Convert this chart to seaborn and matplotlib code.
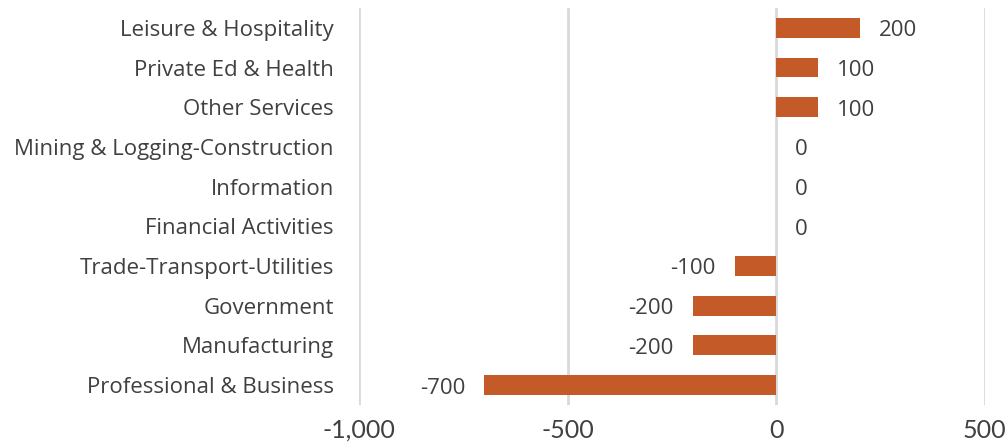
import pandas as pd
import matplotlib
matplotlib.use('Agg')
import matplotlib.pyplot as plt
import seaborn as sns

# Data (top to bottom as shown)
sectors = ['Leisure & Hospitality', 'Private Ed & Health', 'Other Services',
           'Mining & Logging-Construction', 'Information', 'Financial Activities',
           'Trade-Transport-Utilities', 'Government', 'Manufacturing',
           'Professional & Business']
changes = [200, 100, 100, 0, 0, 0, -100, -200, -200, -700]
x_ticks = [-1000, -500, 0, 500]

df = pd.DataFrame({'sector': sectors, 'change': changes})

sns.set_style('white')
plt.rcParams['font.family'] = ['Open Sans', 'DejaVu Sans']
text_color = '#404040'
bar_color = '#C45A27'

fig = plt.figure(figsize=(10.07, 4.43), dpi=100)
ax = fig.add_axes([0.3565, 0.086, 0.6215, 0.896])

sns.barplot(data=df, x='change', y='sector', orient='h', color=bar_color,
            width=0.5, saturation=1, linewidth=0, ax=ax)

ax.set_xlim(-1000, 500)
ax.set_ylim(len(sectors) - 0.5, -0.5)
ax.set_xticks(x_ticks)
ax.set_xticklabels([f'{v:,}' for v in x_ticks])
ax.xaxis.grid(True, color='#D9D9D9', linewidth=2)
ax.set_axisbelow(True)
ax.set_xlabel('')
ax.set_ylabel('')
for s in ax.spines.values():
    s.set_visible(False)
ax.tick_params(axis='y', length=0, pad=18, labelsize=16, labelcolor=text_color)
ax.tick_params(axis='x', length=0, pad=10, labelsize=18, labelcolor=text_color)
for lbl in ax.get_xticklabels():
    lbl.set_fontfamily(['Lato', 'DejaVu Sans'])

# value labels
for i, v in enumerate(changes):
    off = 19 if v >= 0 else -19
    ax.annotate(f'{v}', xy=(v, i), xytext=(off, -3), textcoords='offset pixels',
                ha='left' if v >= 0 else 'right', va='center',
                fontsize=16, color=text_color)

fig.savefig('out.png', dpi=100)
